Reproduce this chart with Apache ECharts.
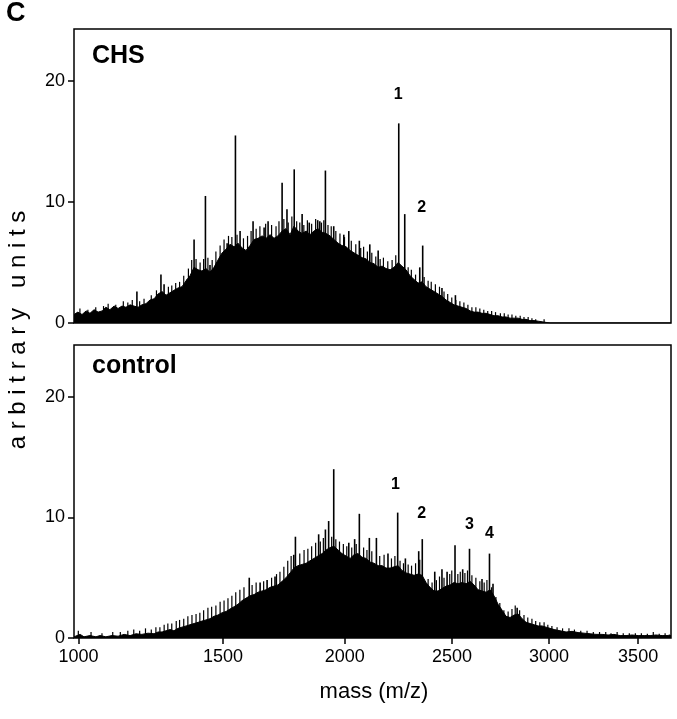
<!DOCTYPE html>
<html><head><meta charset="utf-8">
<script src="https://cdn.jsdelivr.net/npm/echarts@6/dist/echarts.min.js"></script>
<style>html,body{margin:0;padding:0;background:#fff}#c{width:677px;height:719px}</style>
</head><body><div id="c"></div>
<script>
// ---------- data (mass in Da, intensity in arbitrary units) ----------
const massRange = [986, 3694];
const tickMasses = [1000, 1500, 2000, 2500, 3000, 3500];
const yRange = [0, 24.3];

// CHS panel: spectrum envelope
const chsMass = [986,998,1011,1024,1036,1049,1062,1075,1087,1100,1114,1127,1140,1153,1167,1180,1194,1207,1221,1235,1249,1263,1277,1291,1305,1319,1334,1348,1363,1377,1392,1407,1421,1436,1451,1466,1481,1497,1512,1527,1543,1558,1574,1589,1605,1621,1637,1653,1669,1685,1701,1717,1734,1750,1767,1783,1800,1817,1834,1850,1867,1884,1902,1919,1936,1953,1971,1988,2006,2024,2041,2059,2077,2095,2113,2131,2150,2168,2186,2205,2223,2242,2260,2279,2298,2317,2336,2355,2374,2393,2413,2432,2451,2471,2491,2510,2530,2550,2570,2590,2610,2630,2650,2671,2691,2711,2732,2753,2773,2794,2815,2836,2857,2878,2899,2920,2942,2963,2984,3006,3694];
const chsValue = [0.7,0.9,0.7,1.0,0.8,1.1,0.9,1.0,1.3,1.1,1.4,1.2,1.4,1.3,1.5,1.4,1.3,1.5,1.6,1.9,2.0,2.4,2.6,2.3,2.5,2.7,2.9,3.0,3.5,3.9,4.6,4.4,4.3,4.5,4.2,4.6,5.2,5.8,6.1,6.5,6.3,6.6,6.2,6.0,6.4,6.9,7.0,7.2,7.0,7.3,7.0,7.2,7.6,7.8,7.3,8.0,7.6,7.4,7.6,7.3,7.6,7.8,7.5,7.4,7.2,6.9,6.6,6.4,6.3,6.0,5.8,5.6,5.4,5.3,5.0,4.9,4.6,4.7,4.5,4.4,4.6,5.0,4.7,4.4,3.9,3.6,3.3,3.4,3.0,2.8,2.6,2.4,2.2,1.9,1.7,1.5,1.4,1.3,1.2,1.0,0.9,0.9,0.8,0.8,0.7,0.6,0.6,0.5,0.5,0.4,0.4,0.4,0.3,0.3,0.2,0.2,0.15,0.1,0.05,0,0];
// CHS panel: sharp peaks
const chsPeakMass = [1190,1273,1284,1366,1392,1434,1451,1516,1548,1566,1617,1661,1677,1734,1754,1784,1817,1847,1883,1892,1916,1952,1996,2018,2065,2112,2150,2245,2273,2344,2358,2451,2517];
const chsPeakValue = [2.6,4.0,3.2,3.6,6.9,10.5,4.8,6.6,15.5,7.6,8.4,7.9,8.4,11.6,9.4,12.7,9.0,8.3,8.5,8.4,12.6,8.0,7.3,7.6,6.8,6.5,6.0,16.5,9.0,4.6,6.4,2.9,2.3];
// CHS panel: minor spikes (noise texture on the envelope)
const chsMinorMass = [1005,1030,1055,1080,1095,1120,1145,1160,1175,1200,1215,1240,1258,1300,1312,1326,1340,1355,1372,1384,1400,1415,1428,1444,1460,1474,1490,1505,1522,1535,1555,1580,1596,1610,1630,1645,1668,1692,1710,1722,1742,1760,1775,1795,1808,1825,1840,1858,1875,1900,1910,1928,1942,1962,1980,2000,2030,2050,2072,2085,2102,2122,2140,2160,2175,2195,2215,2232,2290,2305,2325,2366,2385,2400,2420,2440,2462,2480,2500,2520,2540,2560,2580,2600,2620,2640,2660,2680,2700,2720,2745,2765,2785,2805,2825,2848,2868,2890,2910,2930,2975];
const chsMinorValue = [1.2,1.1,1.3,1.4,1.6,1.5,1.8,1.7,1.9,1.8,2.0,2.3,2.7,3.0,3.1,3.3,3.4,3.9,4.5,5.2,5.3,5.0,5.3,5.4,5.2,5.9,6.4,6.9,7.2,7.1,7.3,7.0,7.2,7.6,7.8,8.0,8.2,8.1,8.0,8.4,8.6,8.3,8.8,8.4,8.3,8.1,8.5,8.2,8.6,8.3,8.5,8.1,8.0,7.6,7.4,7.1,6.8,6.5,6.2,6.3,5.9,5.8,5.5,5.3,5.4,5.1,5.2,5.6,4.6,4.4,4.0,3.8,3.5,3.4,3.2,3.0,2.6,2.4,2.1,1.9,1.8,1.7,1.5,1.3,1.3,1.2,1.1,1.0,1.0,0.9,0.8,0.8,0.7,0.7,0.6,0.6,0.5,0.5,0.4,0.3,0.3];
const chsLabelText = ['1', '2'];
const chsLabelMass = [2242, 2353];
const chsLabelValue = [18.9, 9.5];

// control panel: spectrum envelope
const ctrlMass = [986,1005,1017,1036,1055,1068,1087,1107,1127,1147,1167,1187,1207,1228,1249,1263,1277,1291,1305,1319,1334,1348,1363,1377,1392,1407,1421,1436,1451,1466,1481,1497,1512,1527,1543,1558,1574,1589,1605,1621,1637,1653,1669,1685,1701,1717,1734,1750,1767,1783,1800,1817,1834,1850,1867,1884,1902,1919,1936,1953,1971,1988,2006,2024,2041,2059,2077,2095,2113,2131,2150,2168,2186,2205,2223,2242,2260,2279,2298,2317,2336,2355,2374,2393,2413,2432,2451,2471,2491,2510,2530,2550,2570,2590,2610,2630,2650,2671,2691,2711,2732,2753,2773,2794,2815,2836,2857,2878,2899,2920,2942,2963,2984,3006,3028,3060,3093,3126,3159,3192,3226,3259,3293,3327,3361,3396,3430,3465,3500,3535,3570,3605,3641,3677,3694];
const ctrlValue = [0.1,0.3,0.1,0.2,0.1,0.2,0.1,0.2,0.15,0.3,0.2,0.35,0.3,0.4,0.35,0.5,0.5,0.6,0.7,0.6,0.8,0.9,1.0,1.1,1.2,1.3,1.4,1.5,1.6,1.8,1.9,2.1,2.2,2.4,2.6,2.8,3.1,3.3,3.5,3.6,3.8,3.9,4.0,4.2,4.3,4.4,4.7,5.0,5.4,5.8,6.0,6.1,6.2,6.4,6.6,6.8,7.0,7.3,7.5,7.6,7.3,7.0,6.8,6.6,6.9,7.0,6.7,6.6,6.3,6.2,6.0,6.0,5.8,5.8,5.9,6.0,5.6,5.4,5.3,5.2,5.3,5.2,4.6,4.2,3.9,3.9,4.1,4.3,4.4,4.6,4.5,4.6,4.5,4.7,4.4,4.0,3.9,3.8,4.0,3.5,2.8,2.3,1.8,1.7,1.9,2.0,1.6,1.3,1.2,1.1,1.0,1.0,0.9,0.8,0.7,0.6,0.5,0.55,0.45,0.4,0.35,0.3,0.3,0.25,0.3,0.2,0.2,0.25,0.2,0.2,0.2,0.25,0.2,0.2,0.2];
// control panel: sharp peaks
const ctrlPeakMass = [1602,1645,1673,1705,1782,1789,1887,1916,1930,1952,2018,2044,2065,2110,2142,2195,2240,2276,2339,2356,2416,2451,2476,2515,2553,2587,2650,2688,2706,2831];
const ctrlPeakValue = [5.0,4.6,4.8,5.1,6.9,8.4,8.6,9.0,9.7,14.0,7.9,8.2,10.3,8.3,8.3,7.0,10.4,6.6,7.2,8.2,5.5,5.7,5.5,7.7,5.7,7.4,4.9,7.0,4.5,2.5];
// control panel: minor spikes (noise texture on the envelope)
const ctrlMinorMass = [1000,1040,1075,1110,1135,1160,1180,1200,1220,1240,1256,1270,1285,1298,1312,1328,1340,1355,1370,1385,1400,1414,1428,1444,1458,1474,1490,1505,1520,1535,1550,1566,1582,1614,1630,1660,1692,1712,1726,1742,1758,1772,1808,1826,1842,1858,1875,1895,1908,1944,1962,1978,1995,2010,2032,2052,2085,2100,2122,2158,2178,2212,2228,2252,2268,2290,2306,2325,2345,2385,2404,2425,2440,2462,2490,2500,2530,2542,2565,2578,2600,2620,2640,2662,2676,2700,2722,2742,2763,2785,2805,2822,2845,2868,2888,2910,2930,2952,2975,2995,3017,3045,3075,3110,3140,3175,3210,3245,3280,3315,3345,3380,3415,3450,3485,3520,3555,3590,3625,3660,3685];
const ctrlMinorValue = [0.6,0.5,0.4,0.5,0.5,0.6,0.7,0.6,0.8,0.7,0.9,0.9,1.1,1.2,1.2,1.4,1.5,1.6,1.8,1.9,2.0,2.1,2.3,2.5,2.6,2.7,3.0,3.1,3.3,3.5,3.8,4.0,4.2,4.4,4.6,4.7,5.0,5.3,5.5,5.9,6.4,6.8,7.0,7.3,7.4,7.6,7.9,8.0,8.3,8.4,8.2,8.0,7.8,7.6,7.5,7.8,7.5,7.3,7.2,6.8,6.9,6.6,6.8,6.4,6.2,6.1,6.0,6.2,6.5,4.9,4.6,4.8,5.1,5.0,5.3,5.6,5.3,5.5,5.4,5.6,5.2,5.0,4.7,4.6,4.8,4.2,3.4,2.9,2.3,2.2,2.4,2.7,2.3,1.9,1.7,1.6,1.4,1.3,1.3,1.1,1.0,0.9,0.8,0.8,0.7,0.6,0.6,0.5,0.5,0.5,0.4,0.5,0.4,0.4,0.4,0.4,0.35,0.5,0.35,0.4,0.3];
const ctrlLabelText = ['1', '2', '3', '4'];
const ctrlLabelMass = [2230, 2353, 2587, 2688];
const ctrlLabelValue = [12.7, 10.3, 9.4, 8.7];

// ---------- chart ----------
const FONT = '"Liberation Sans", Arial, Helvetica, sans-serif';
const sq = Math.sqrt;
const pts = (ms, vs) => ms.map((m, i) => [sq(m), vs[i]]);
const labPts = (ms, vs, ts) => ms.map((m, i) => ({ value: [sq(m), vs[i]], name: ts[i] }));

function xAxisFor(idx, showTicks) {
  return {
    type: 'value', gridIndex: idx,
    min: sq(massRange[0]), max: sq(massRange[1]),
    axisLine: { show: false },
    splitLine: { show: false },
    axisTick: { show: showTicks, customValues: tickMasses.map(sq), length: 6, inside: false,
      lineStyle: { color: '#000', width: 1.5 } },
    axisLabel: { show: showTicks, customValues: tickMasses.map(sq), margin: 10,
      formatter: v => String(Math.round(v * v)), color: '#000', fontSize: 18, fontFamily: FONT }
  };
}
function yAxisFor(idx) {
  return {
    type: 'value', gridIndex: idx, min: yRange[0], max: yRange[1], interval: 10,
    axisLine: { show: false },
    splitLine: { show: false },
    axisTick: { show: true, length: 6, lineStyle: { color: '#000', width: 1.5 } },
    axisLabel: { showMaxLabel: false, color: '#000', fontSize: 18, fontFamily: FONT, margin: 9 }
  };
}
function spectrum(idx, ms, vs, pm, pv, mm, mv, lm, lv, lt) {
  return [
    { type: 'line', xAxisIndex: idx, yAxisIndex: idx, data: pts(ms, vs), showSymbol: false,
      symbol: 'none', animation: false, silent: true,
      lineStyle: { color: '#000', width: 1 }, areaStyle: { color: '#000', opacity: 1 } },
    { type: 'bar', xAxisIndex: idx, yAxisIndex: idx, data: pts(mm, mv), barWidth: 1.2,
      barGap: '-100%', animation: false, silent: true, itemStyle: { color: '#000' } },
    { type: 'bar', xAxisIndex: idx, yAxisIndex: idx, data: pts(pm, pv), barWidth: 1.6,
      barGap: '-100%', animation: false, silent: true, itemStyle: { color: '#000' } },
    { type: 'scatter', xAxisIndex: idx, yAxisIndex: idx, data: labPts(lm, lv, lt),
      symbolSize: 0, animation: false, silent: true, itemStyle: { opacity: 1 },
      label: { show: true, position: 'inside', formatter: p => p.name, color: '#000', opacity: 1,
        fontSize: 16, fontWeight: 'bold', fontFamily: FONT } }
  ];
}

const chart = echarts.init(document.getElementById('c'), null, { renderer: 'canvas' });
chart.setOption({
  backgroundColor: '#fff',
  animation: false,
  grid: [
    { left: 74, right: 6, top: 29, height: 294, show: true, borderColor: '#000', borderWidth: 1.5, backgroundColor: 'transparent' },
    { left: 74, right: 6, top: 345, height: 293, show: true, borderColor: '#000', borderWidth: 1.5, backgroundColor: 'transparent' }
  ],
  xAxis: [xAxisFor(0, false), xAxisFor(1, true)],
  yAxis: [yAxisFor(0), yAxisFor(1)],
  series: [
    ...spectrum(0, chsMass, chsValue, chsPeakMass, chsPeakValue, chsMinorMass, chsMinorValue, chsLabelMass, chsLabelValue, chsLabelText),
    ...spectrum(1, ctrlMass, ctrlValue, ctrlPeakMass, ctrlPeakValue, ctrlMinorMass, ctrlMinorValue, ctrlLabelMass, ctrlLabelValue, ctrlLabelText)
  ],
  graphic: [
    { type: 'text', left: 6, top: 0, style: { text: 'C', font: 'bold 27px ' + FONT, fill: '#000' } },
    { type: 'text', left: 92, top: 44, style: { text: 'CHS', font: 'bold 25px ' + FONT, fill: '#000' } },
    { type: 'text', left: 92, top: 354, style: { text: 'control', font: 'bold 25px ' + FONT, fill: '#000' } },
    { type: 'text', x: 18, y: 330, rotation: Math.PI / 2,
      style: { text: 'a r b i t r a r y   u n i t s', font: '24px ' + FONT, fill: '#000', align: 'center', verticalAlign: 'middle' } },
    { type: 'text', x: 374, y: 692,
      style: { text: 'mass (m/z)', font: '22px ' + FONT, fill: '#000', align: 'center', verticalAlign: 'middle' } }
  ]
});
</script></body></html>
